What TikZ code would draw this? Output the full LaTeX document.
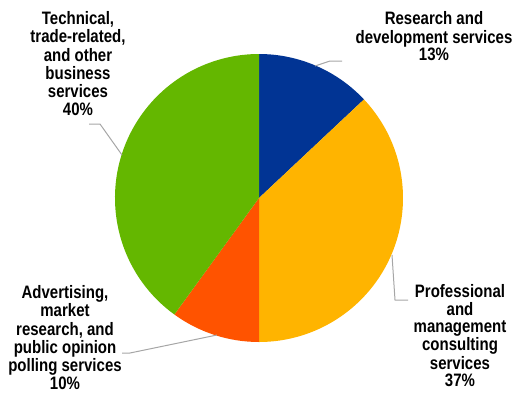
\documentclass[tikz,border=0pt]{standalone}
\usepackage{fontspec}
\usepackage{graphicx}
\setmainfont{Liberation Sans}
\definecolor{rdblue}{HTML}{013494}
\definecolor{profyellow}{HTML}{FFB400}
\definecolor{advred}{HTML}{FF5300}
\definecolor{techgreen}{HTML}{64B700}
\definecolor{leadgray}{HTML}{A6A6A6}
\newcommand\talltext[1]{\scalebox{1}[1.2]{\begin{tabular}{@{}c@{}}#1\end{tabular}}}
\tikzset{
  pielabel/.style={inner sep=0pt,font=\bfseries\fontsize{15}{14.4}\selectfont},
  leader/.style={draw=leadgray,line width=1pt}
}
\begin{document}
\begin{tikzpicture}[x=1pt,y=1pt]
\useasboundingbox (0,0) rectangle (517,-392);

\begin{scope}
\coordinate (o) at (259,-198);
\foreach \a/\b/\c in {90/43.2/rdblue, 43.2/-90/profyellow, -90/-126/advred, -126/-270/techgreen}
  \fill[\c] (o) -- ++(\a:144) arc[start angle=\a, end angle=\b, radius=144] -- cycle;
\end{scope}

% labels
\node[pielabel] (rd) at (434,-39) {\talltext{Research and\\development services\\13\%}};
\node[pielabel] (prof) at (460,-338) {\talltext{Professional\\and\\management\\consulting\\services\\37\%}};
\node[pielabel] (adv) at (65,-340) {\talltext{Advertising,\\market\\research, and\\public opinion\\polling services\\10\%}};
\node[pielabel] (tech) at (78,-66) {\talltext{Technical,\\trade-related,\\and other\\business\\services\\40\%}};

% leader lines
\coordinate (rdA) at (315,-66);
\coordinate (rdB) at (342,-61);
\draw[leader] (rdA) -- (330,-61) -- (rdB);
\coordinate (profA) at (392,-255);
\coordinate (profB) at (408,-300);
\draw[leader] (profA) -- (395,-300) -- (profB);
\coordinate (advA) at (217,-335);
\coordinate (advB) at (122,-353);
\draw[leader] (advA) -- (130,-353) -- (advB);
\coordinate (techA) at (122,-155);
\coordinate (techB) at (89,-124);
\draw[leader] (techA) -- (100,-124) -- (techB);

\end{tikzpicture}
\end{document}
